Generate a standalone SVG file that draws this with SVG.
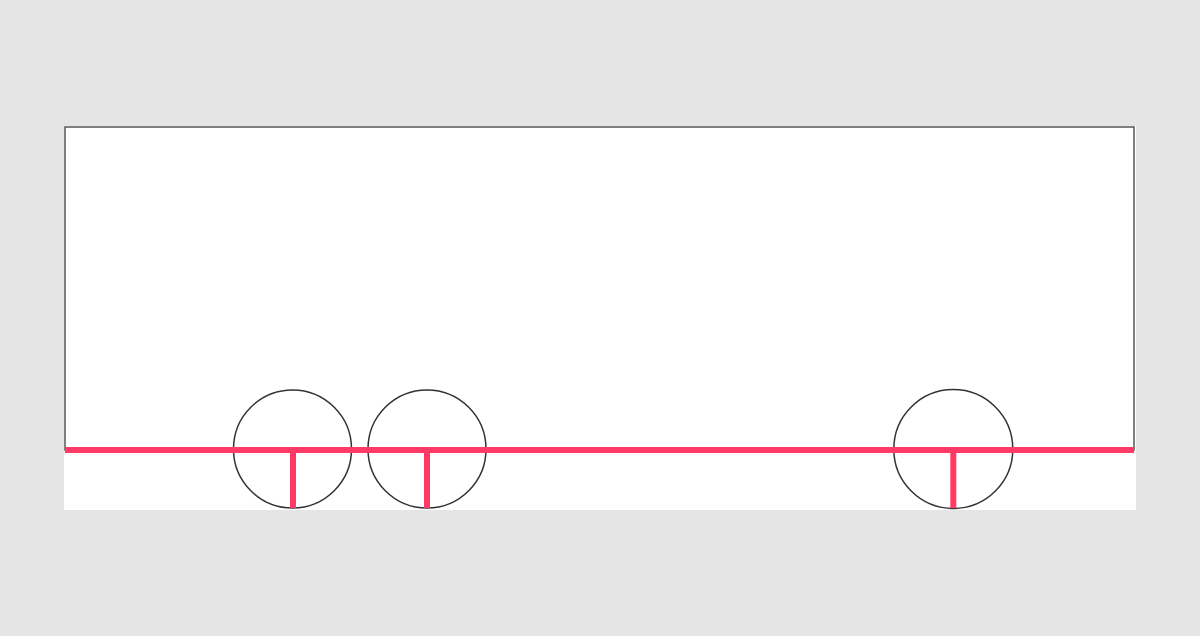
<svg xmlns="http://www.w3.org/2000/svg" width="1200" height="636" viewBox="0 0 1200 636">
<style>
.wheel{fill:none;stroke:#333;stroke-width:1.5}
.frame{fill:none;stroke:#555;stroke-width:1.5}
.beam{stroke:#ff3a66;stroke-width:6;fill:none}
</style>
<rect x="0" y="0" width="1200" height="636" fill="#e5e5e5"/>
<rect x="64" y="126" width="1072" height="384" fill="#ffffff"/>
<g id="body"><rect class="frame" x="65" y="127" width="1069" height="323"/></g>
<g id="wheel1"><circle class="wheel" cx="292.5" cy="449" r="59"/></g>
<g id="wheel2"><circle class="wheel" cx="427" cy="449" r="59"/></g>
<g id="wheel3"><circle class="wheel" cx="953.3" cy="449" r="59.5"/></g>
<g id="connectors">
<line class="beam" x1="65" y1="450" x2="1134" y2="450"/>
<line class="beam" x1="293" y1="450" x2="293" y2="508"/>
<line class="beam" x1="427" y1="450" x2="427" y2="508"/>
<line class="beam" x1="953.3" y1="450" x2="953.3" y2="508"/>
</g>
</svg>
